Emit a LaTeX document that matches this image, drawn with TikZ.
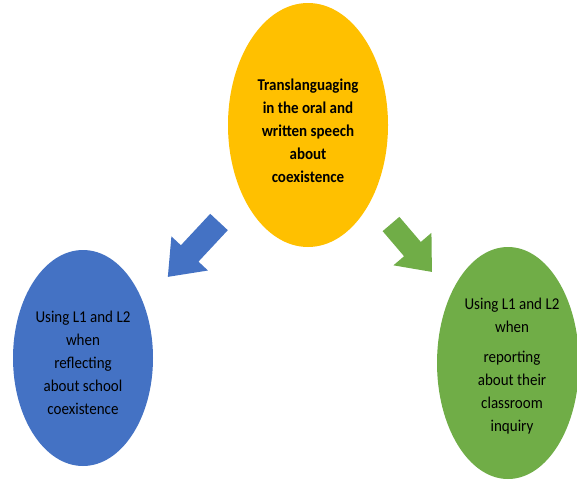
\documentclass[tikz,border=0pt]{standalone}
\usepackage{fontspec}
\setmainfont{Carlito}[FakeStretch=0.91]
\usetikzlibrary{shapes.geometric}
\definecolor{ovalyellow}{HTML}{FFC000}
\definecolor{ovalblue}{HTML}{4472C4}
\definecolor{ovalgreen}{HTML}{70AD47}
\tikzset{
  oval/.style={ellipse, inner sep=0pt, draw=none},
  ovaltext/.style={inner sep=0pt, align=center, text=black,
    font=\fontsize{16.5}{23}\selectfont}
}
\begin{document}
\begin{tikzpicture}[x=1pt, y=-1pt]
\useasboundingbox (0,0) rectangle (577,479);
\fill[white] (0,0) rectangle (577,479);

% ovals
\node[oval, fill=ovalyellow, minimum width=160pt, minimum height=244pt] (top) at (308,125) {};
\node[oval, fill=ovalblue, minimum width=140pt, minimum height=216pt] (left) at (83,358) {};
\node[oval, fill=ovalgreen, minimum width=142pt, minimum height=232pt] (right) at (508,363) {};

% oval texts
\node[ovaltext, font=\fontsize{16.5}{23}\selectfont\bfseries] (toptext) at ([yshift=-6pt]top.center)
  {Translanguaging\\in the oral and\\written speech\\about\\coexistence};
\node[ovaltext] (lefttext) at ([yshift=-5pt]left.center)
  {Using L1 and L2\\when\\reflecting\\about school\\coexistence};
\node[ovaltext] (righttext) at ([xshift=4pt, yshift=-3pt]right.center)
  {Using L1 and L2\\when\\[7pt]reporting\\about their\\classroom\\inquiry};

% block arrows from the centre to each outcome
\begin{scope}[shift={(219,222)}, rotate=227]
  \fill[ovalblue] (0,-12) -- (43,-12) -- (43,-25) -- (75,0) -- (43,25) -- (43,12) -- (0,12) -- cycle;
\end{scope}
\begin{scope}[shift={(391,224)}, rotate=-49.5]
  \fill[ovalgreen] (0,-11) -- (33,-11) -- (33,-25) -- (63,0) -- (33,25) -- (33,11) -- (0,11) -- cycle;
\end{scope}
\end{tikzpicture}
\end{document}
